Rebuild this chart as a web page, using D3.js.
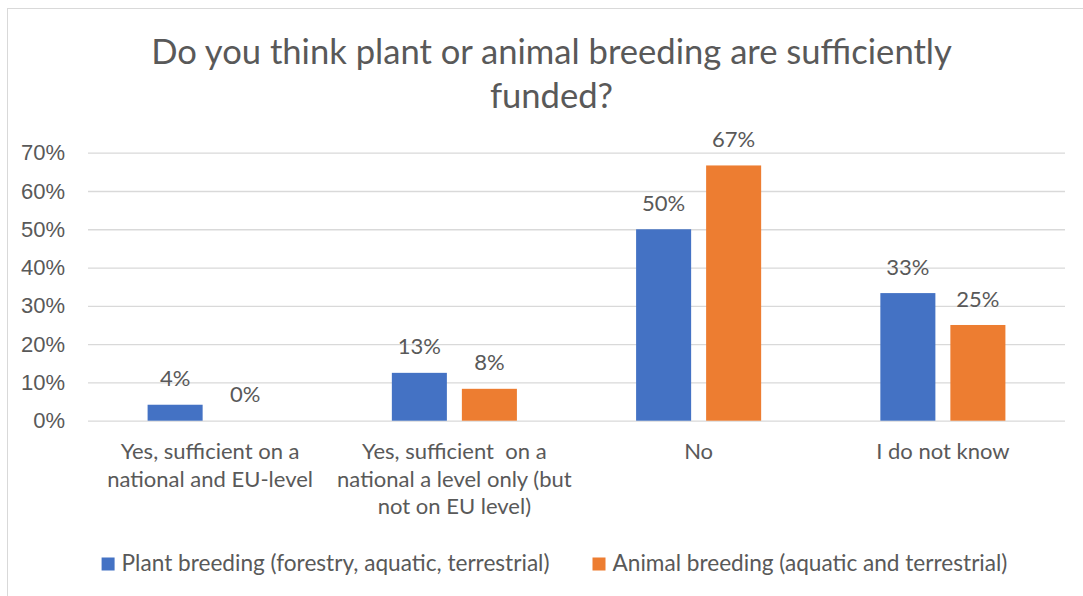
<!DOCTYPE html>
<html>
<head>
<meta charset="utf-8">
<script src="https://cdn.jsdelivr.net/npm/d3@7"></script>
<style>
  html, body { margin: 0; padding: 0; background: #fff; }
  svg { display: block; font-family: Lato, "Open Sans", sans-serif; }
  text { white-space: pre; }
</style>
</head>
<body>
<svg id="chart" width="1083" height="596"></svg>
<script>
"use strict";

var titleLines = ["Do you think plant or animal breeding are sufficiently", "funded?"];

var categories = [
  ["Yes, sufficient on a", "national and EU-level"],
  ["Yes, sufficient  on a", "national a level only (but", "not on EU level)"],
  ["No"],
  ["I do not know"]
];

var seriesNames = ["Plant breeding (forestry, aquatic, terrestrial)", "Animal breeding (aquatic and terrestrial)"];
var seriesColors = ["#4472C4", "#ED7D31"];

var plantValues = [0.0417, 0.125, 0.50, 0.3333];
var animalValues = [0.0, 0.0833, 0.6667, 0.25];

var yTicks = [0, 0.1, 0.2, 0.3, 0.4, 0.5, 0.6, 0.7];

var textColor = "#595959",
    gridColor = "#d9d9d9";

var svg = d3.select("#chart");

// measure a string at a given size so fonts other than Calibri still fit the layout
function measure(str, size){
  var t = svg.append("text").attr("font-size", size).text(str);
  var w = t.node().getComputedTextLength();
  t.remove();
  return w;
}

var titleSize = 36 * 801 / measure(titleLines[0], 36);
var labelSize = 22.5 * 206 / measure(categories[0][1], 22.5);
var legendSize = 22.5 * 428 / measure(seriesNames[0], 22.5);

var margin = {left: 88, right: 1065, top: 152.7, bottom: 420.7};

var x0 = d3.scaleBand()
  .domain(d3.range(categories.length))
  .range([margin.left, margin.right])
  .paddingInner(0.488)
  .paddingOuter(0.244);

var x1 = d3.scaleBand()
  .domain([0, 1])
  .range([0, x0.bandwidth()])
  .paddingInner(0.214)
  .paddingOuter(0);

var y = d3.scaleLinear()
  .domain([0, 0.7])
  .range([margin.bottom, margin.top]);

var data = categories.map(function(c, i){
  return {i: i, values: [plantValues[i], animalValues[i]]};
});

// chart border
svg.append("rect")
  .attr("x", 7.5)
  .attr("y", 8.5)
  .attr("width", 1100)
  .attr("height", 620)
  .attr("fill", "#fff")
  .attr("stroke", gridColor)
  .attr("stroke-width", 1);

// title
svg.append("text")
  .attr("text-anchor", "middle")
  .attr("font-size", titleSize)
  .attr("fill", textColor)
  .selectAll("tspan")
  .data(titleLines)
  .enter()
  .append("tspan")
  .attr("x", 551.5)
  .attr("y", function(d, i){ return 64 + i * 44; })
  .text(function(d){ return d; });

// gridlines + y labels
var yAxis = d3.axisLeft(y)
  .tickValues(yTicks)
  .tickFormat(d3.format(".0%"))
  .tickSize(-(margin.right - margin.left))
  .tickPadding(23);

var yAxis_g = svg.append("g")
  .attr("transform", "translate(" + margin.left + ",0)")
  .call(yAxis);

yAxis_g.select(".domain").remove();
yAxis_g.selectAll(".tick line")
  .attr("stroke", gridColor)
  .attr("stroke-width", 1.3);
yAxis_g.selectAll(".tick text")
  .attr("fill", textColor)
  .attr("font-size", labelSize)
  .attr("font-family", null);

// bars
var groups = svg.append("g")
  .selectAll(".cat")
  .data(data)
  .enter()
  .append("g")
  .attr("class", "cat")
  .attr("transform", function(d){ return "translate(" + x0(d.i) + ",0)"; });

groups.selectAll("rect")
  .data(function(d){ return d.values.map(function(v, s){ return {s: s, v: v}; }); })
  .enter()
  .append("rect")
  .attr("x", function(d){ return x1(d.s); })
  .attr("y", function(d){ return y(d.v); })
  .attr("width", x1.bandwidth())
  .attr("height", function(d){ return y(0) - y(d.v); })
  .attr("fill", function(d){ return seriesColors[d.s]; });

groups.selectAll(".value")
  .data(function(d){ return d.values.map(function(v, s){ return {s: s, v: v}; }); })
  .enter()
  .append("text")
  .attr("class", "value")
  .attr("x", function(d){ return x1(d.s) + x1.bandwidth() / 2; })
  .attr("y", function(d){ return y(d.v) - 18.4; })
  .attr("text-anchor", "middle")
  .attr("font-size", labelSize)
  .attr("fill", textColor)
  .text(function(d){ return d3.format(".0%")(d.v); });

// category labels
svg.append("g")
  .selectAll("text")
  .data(data)
  .enter()
  .append("text")
  .attr("text-anchor", "middle")
  .attr("font-size", labelSize)
  .attr("fill", textColor)
  .each(function(d){
    var cx = x0(d.i) + x0.bandwidth() / 2;
    d3.select(this)
      .selectAll("tspan")
      .data(categories[d.i])
      .enter()
      .append("tspan")
      .attr("x", cx)
      .attr("y", function(l, k){ return 459.3 + k * 27.4; })
      .text(function(l){ return l; });
  });

// legend
var sq = 13, sqGap = 7, itemGap = 43;
var widths = seriesNames.map(function(n){ return measure(n, legendSize); });
var total = d3.sum(widths) + seriesNames.length * (sq + sqGap) + itemGap * (seriesNames.length - 1);
var lx = 554.5 - total / 2;

var legend_g = svg.append("g");
seriesNames.forEach(function(name, s){
  legend_g.append("rect")
    .attr("x", lx)
    .attr("y", 557.5)
    .attr("width", sq)
    .attr("height", sq)
    .attr("fill", seriesColors[s]);
  legend_g.append("text")
    .attr("x", lx + sq + sqGap)
    .attr("y", 571)
    .attr("font-size", legendSize)
    .attr("fill", textColor)
    .text(name);
  lx += sq + sqGap + widths[s] + itemGap;
});
</script>
</body>
</html>
